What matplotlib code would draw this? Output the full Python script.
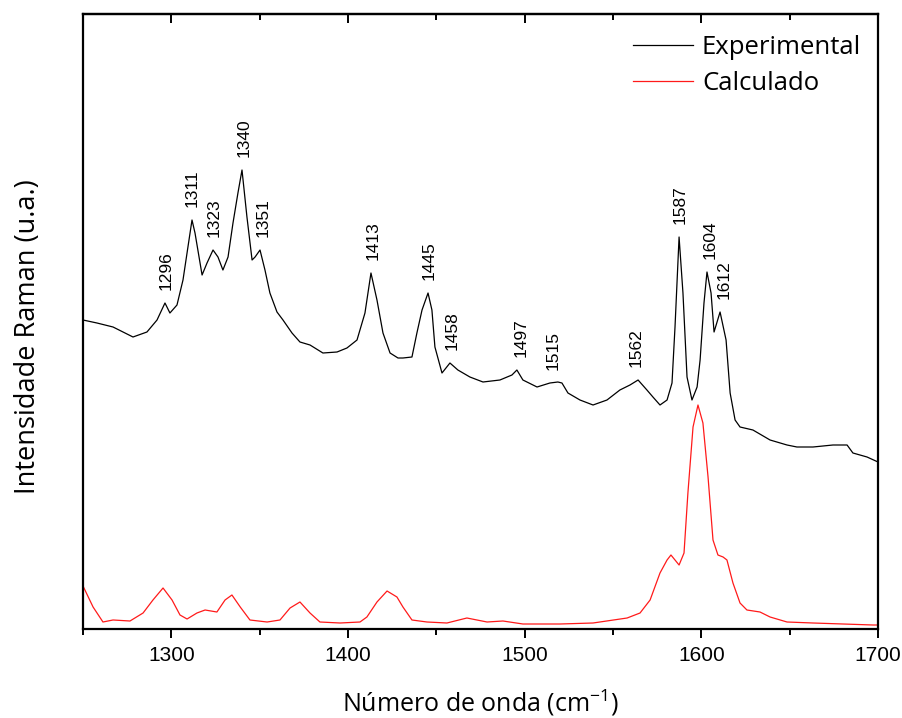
import numpy as np
import matplotlib
matplotlib.use("Agg")
import matplotlib.pyplot as plt

plt.rcParams["mathtext.fontset"] = "custom"
plt.rcParams["mathtext.rm"] = "Open Sans"
plt.rcParams["mathtext.it"] = "Open Sans"
plt.rcParams["mathtext.default"] = "rm"

# experimental Raman spectrum (wavenumber cm-1, intensity a.u.)
exp_x = [1250, 1257.9, 1267, 1278.3, 1286.2, 1291.9, 1296.4, 1299.2, 1303.2, 1306.6,
         1309.4, 1311.7, 1313.4, 1317.4, 1320.2, 1323.6, 1326.4, 1329.2, 1332.1, 1334.9,
         1337.7, 1340, 1342.8, 1345.7, 1347.4, 1350.2, 1353, 1355.8, 1359.8, 1363.2,
         1368.3, 1372.8, 1378.5, 1385.8, 1393.8, 1399.4, 1405.1, 1409.6, 1413, 1416.4,
         1419.8, 1423.8, 1428.3, 1431.1, 1436.2, 1439, 1441.9, 1445.3, 1447.5, 1449.2,
         1453.2, 1457.7, 1462.2, 1469, 1476.4, 1486, 1492.8, 1495.6, 1499, 1507,
         1514.3, 1518.8, 1521.1, 1524.5, 1531.3, 1538.7, 1546.6, 1553.9, 1559.6, 1564.2,
         1569.2, 1572.6, 1576.6, 1580.6, 1583.4, 1585.1, 1587.4, 1589.6, 1591.9, 1594.7,
         1597.6, 1599.3, 1601.5, 1603.2, 1605.5, 1607.2, 1610.6, 1614, 1616.3, 1619.1,
         1621.9, 1629.2, 1638.9, 1648.5, 1654.1, 1663.2, 1674.5, 1682.5, 1685.8, 1693.8,
         1700]
exp_y = [309, 306, 302, 292, 297, 309, 326, 316, 324, 349,
         382, 409, 396, 354, 366, 379, 372, 359, 372, 406,
         436, 459, 412, 369, 372, 379, 359, 336, 317, 309,
         296, 287, 284, 276, 277, 281, 289, 316, 356, 329,
         296, 276, 271, 271, 272, 296, 319, 336, 319, 282,
         256, 266, 259, 252, 247, 249, 254, 259, 249, 242,
         246, 247, 246, 236, 229, 224, 229, 239, 244, 249,
         239, 232, 224, 229, 246, 302, 392, 336, 252, 229,
         242, 269, 326, 357, 336, 297, 317, 289, 236, 209,
         202, 199, 189, 184, 182, 182, 184, 184, 176, 172,
         167]

# calculated spectrum
calc_x = [1250, 1255.7, 1261.3, 1267, 1276.6, 1284, 1289.6, 1295.3, 1300.4, 1304.9,
          1308.9, 1314.5, 1319.1, 1325.8, 1330.4, 1334.3, 1339, 1344.5, 1354.2, 1361.5,
          1367.2, 1372.8, 1378.5, 1384.1, 1395.5, 1406.8, 1410.7, 1416.4, 1422.1, 1427.7,
          1431.1, 1436.2, 1444.7, 1456, 1467.3, 1478.7, 1487.7, 1499, 1520, 1538.7,
          1558, 1565.3, 1571, 1576.6, 1580.6, 1582.8, 1587.4, 1590.2, 1592.4, 1595.3,
          1598.1, 1600.9, 1603.8, 1606.6, 1609.4, 1612.3, 1614.5, 1617.9, 1621.9, 1625.8,
          1633.2, 1638.9, 1648.5, 1663.2, 1697.2, 1700]
calc_y = [43, 22, 7, 9, 8, 16, 29, 41, 29, 14,
          10, 16, 19, 17, 29, 34, 22, 9, 7, 9,
          21, 27, 16, 7, 6, 7, 12, 27, 38, 32,
          22, 9, 7, 6, 11, 7, 8, 5, 5, 6,
          11, 16, 29, 56, 69, 74, 64, 76, 136, 202,
          224, 206, 152, 89, 74, 72, 69, 46, 26, 19,
          17, 12, 7, 6, 4, 4]

# labelled peaks
peak_labels = ["1296", "1311", "1323", "1340", "1351", "1413", "1445",
               "1458", "1497", "1515", "1562", "1587", "1604", "1612"]

exp_x = np.array(exp_x)
exp_y = np.array(exp_y)

fig = plt.figure(figsize=(9.02, 7.18), dpi=100)
ax = fig.add_axes([83 / 902, 89 / 718, 795 / 902, 615 / 718])

ax.plot(exp_x, exp_y, color="black", lw=0.9, label="Experimental")
ax.plot(calc_x, calc_y, color="#ff1a1a", lw=0.9, label="Calculado")

ax.set_xlim(1250, 1700)
ax.set_ylim(0, 615)

for lab in peak_labels:
    w = float(lab)
    near = (exp_x > w - 3) & (exp_x < w + 3)
    top = exp_y[near].max() if near.any() else np.interp(w, exp_x, exp_y)
    ax.annotate(lab, (w + 1, top), xytext=(0, 9.5), textcoords="offset points",
                rotation=90, ha="center", va="bottom", fontsize=12.5,
                family="Liberation Sans")

# axes styling
for sp in ax.spines.values():
    sp.set_linewidth(1.6)
ax.set_yticks([])
ax.set_xticks(np.arange(1300, 1701, 100))
ax.set_xticks(np.arange(1250, 1701, 50), minor=True)
ax.tick_params(axis="x", which="major", direction="out", length=6.5, width=1.4,
               labelsize=15, pad=6, labelfontfamily="Liberation Sans")
ax.tick_params(axis="x", which="minor", direction="out", length=4.5, width=1.4)

top_ax = ax.secondary_xaxis("top")
top_ax.set_xticks(np.arange(1300, 1701, 100))
top_ax.set_xticks(np.arange(1250, 1701, 50), minor=True)
top_ax.tick_params(axis="x", which="major", direction="in", length=6.5, width=1.4,
                   labeltop=False)
top_ax.tick_params(axis="x", which="minor", direction="in", length=4.5, width=1.4)
top_ax.spines["top"].set_linewidth(1.6)

ax.set_xlabel("Número de onda (cm$^{-1}$)", fontsize=18, family="Open Sans",
              labelpad=16)
ax.set_ylabel("Intensidade Raman (u.a.)", fontsize=19.5, family="Open Sans")
ax.yaxis.set_label_coords(-0.051, 0.475)

leg = ax.legend(loc="upper right", frameon=False,
                prop={"family": "Open Sans", "size": 18.5},
                handlelength=2.35, handletextpad=0.35, labelspacing=0.4,
                bbox_to_anchor=(1.008, 1.003))

fig.savefig("out.png", dpi=100)
